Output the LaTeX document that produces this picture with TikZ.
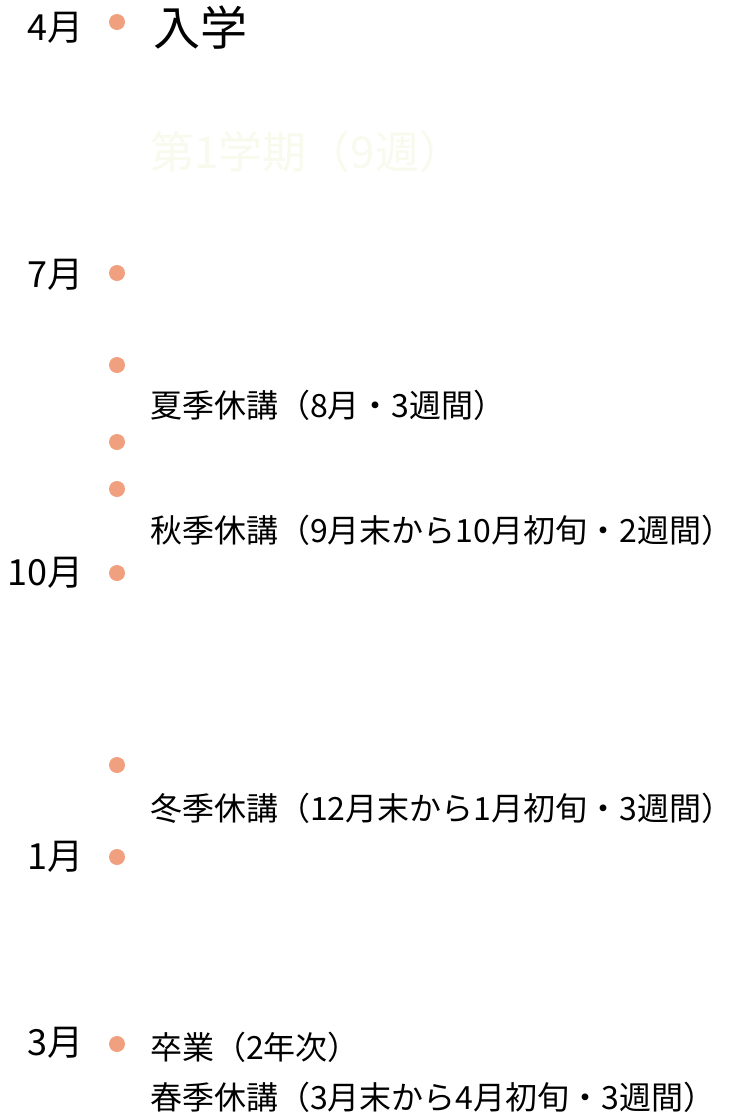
\documentclass[tikz,border=0pt]{standalone}
\usepackage{fontspec}
\newfontfamily\cjk{Noto Sans CJK JP}
\definecolor{dotc}{HTML}{F0A07E}
\definecolor{faint}{HTML}{F7FAEC}
\begin{document}
\begin{tikzpicture}[x=1pt,y=-1pt,
  dotn/.style={circle,fill=dotc,inner sep=0pt,minimum size=16pt},
  mon/.style={anchor=east,inner sep=0pt,font=\cjk\fontsize{36}{38}\selectfont},
  txt/.style={anchor=west,inner sep=0pt,font=\cjk\fontsize{32}{36}\selectfont}]
\useasboundingbox (0,0) rectangle (742,1117);
\node[mon] (m4) at (84,28) {4月};
\node[mon] (m7) at (84,275) {7月};
\node[mon] (m10) at (84,573) {10月};
\node[mon] (m1) at (84,857) {1月};
\node[mon] (m3) at (84,1043) {3月};
\foreach \n/\y in {d1/22,d2/273,d3/365,d4/442,d5/489,d6/573,d7/765,d8/857,d9/1044}
  \node[dotn] (\n) at (117,\y) {};
\node[txt,font=\cjk\fontsize{47}{50}\selectfont] (t1) at (153,28) {入学};
\node[txt,font=\cjk\fontsize{44}{48}\selectfont,text=faint] (t2) at (150,152) {第1学期（9週）};
\node[txt] (t3) at (150,405) {夏季休講（8月・3週間）};
\node[txt] (t4) at (150,530) {秋季休講（9月末から10月初旬・2週間）};
\node[txt] (t5) at (150,808) {冬季休講（12月末から1月初旬・3週間）};
\node[txt] (t6) at (150,1047) {卒業（2年次）};
\node[txt] (t7) at (150,1097) {春季休講（3月末から4月初旬・3週間）};
\end{tikzpicture}
\end{document}
